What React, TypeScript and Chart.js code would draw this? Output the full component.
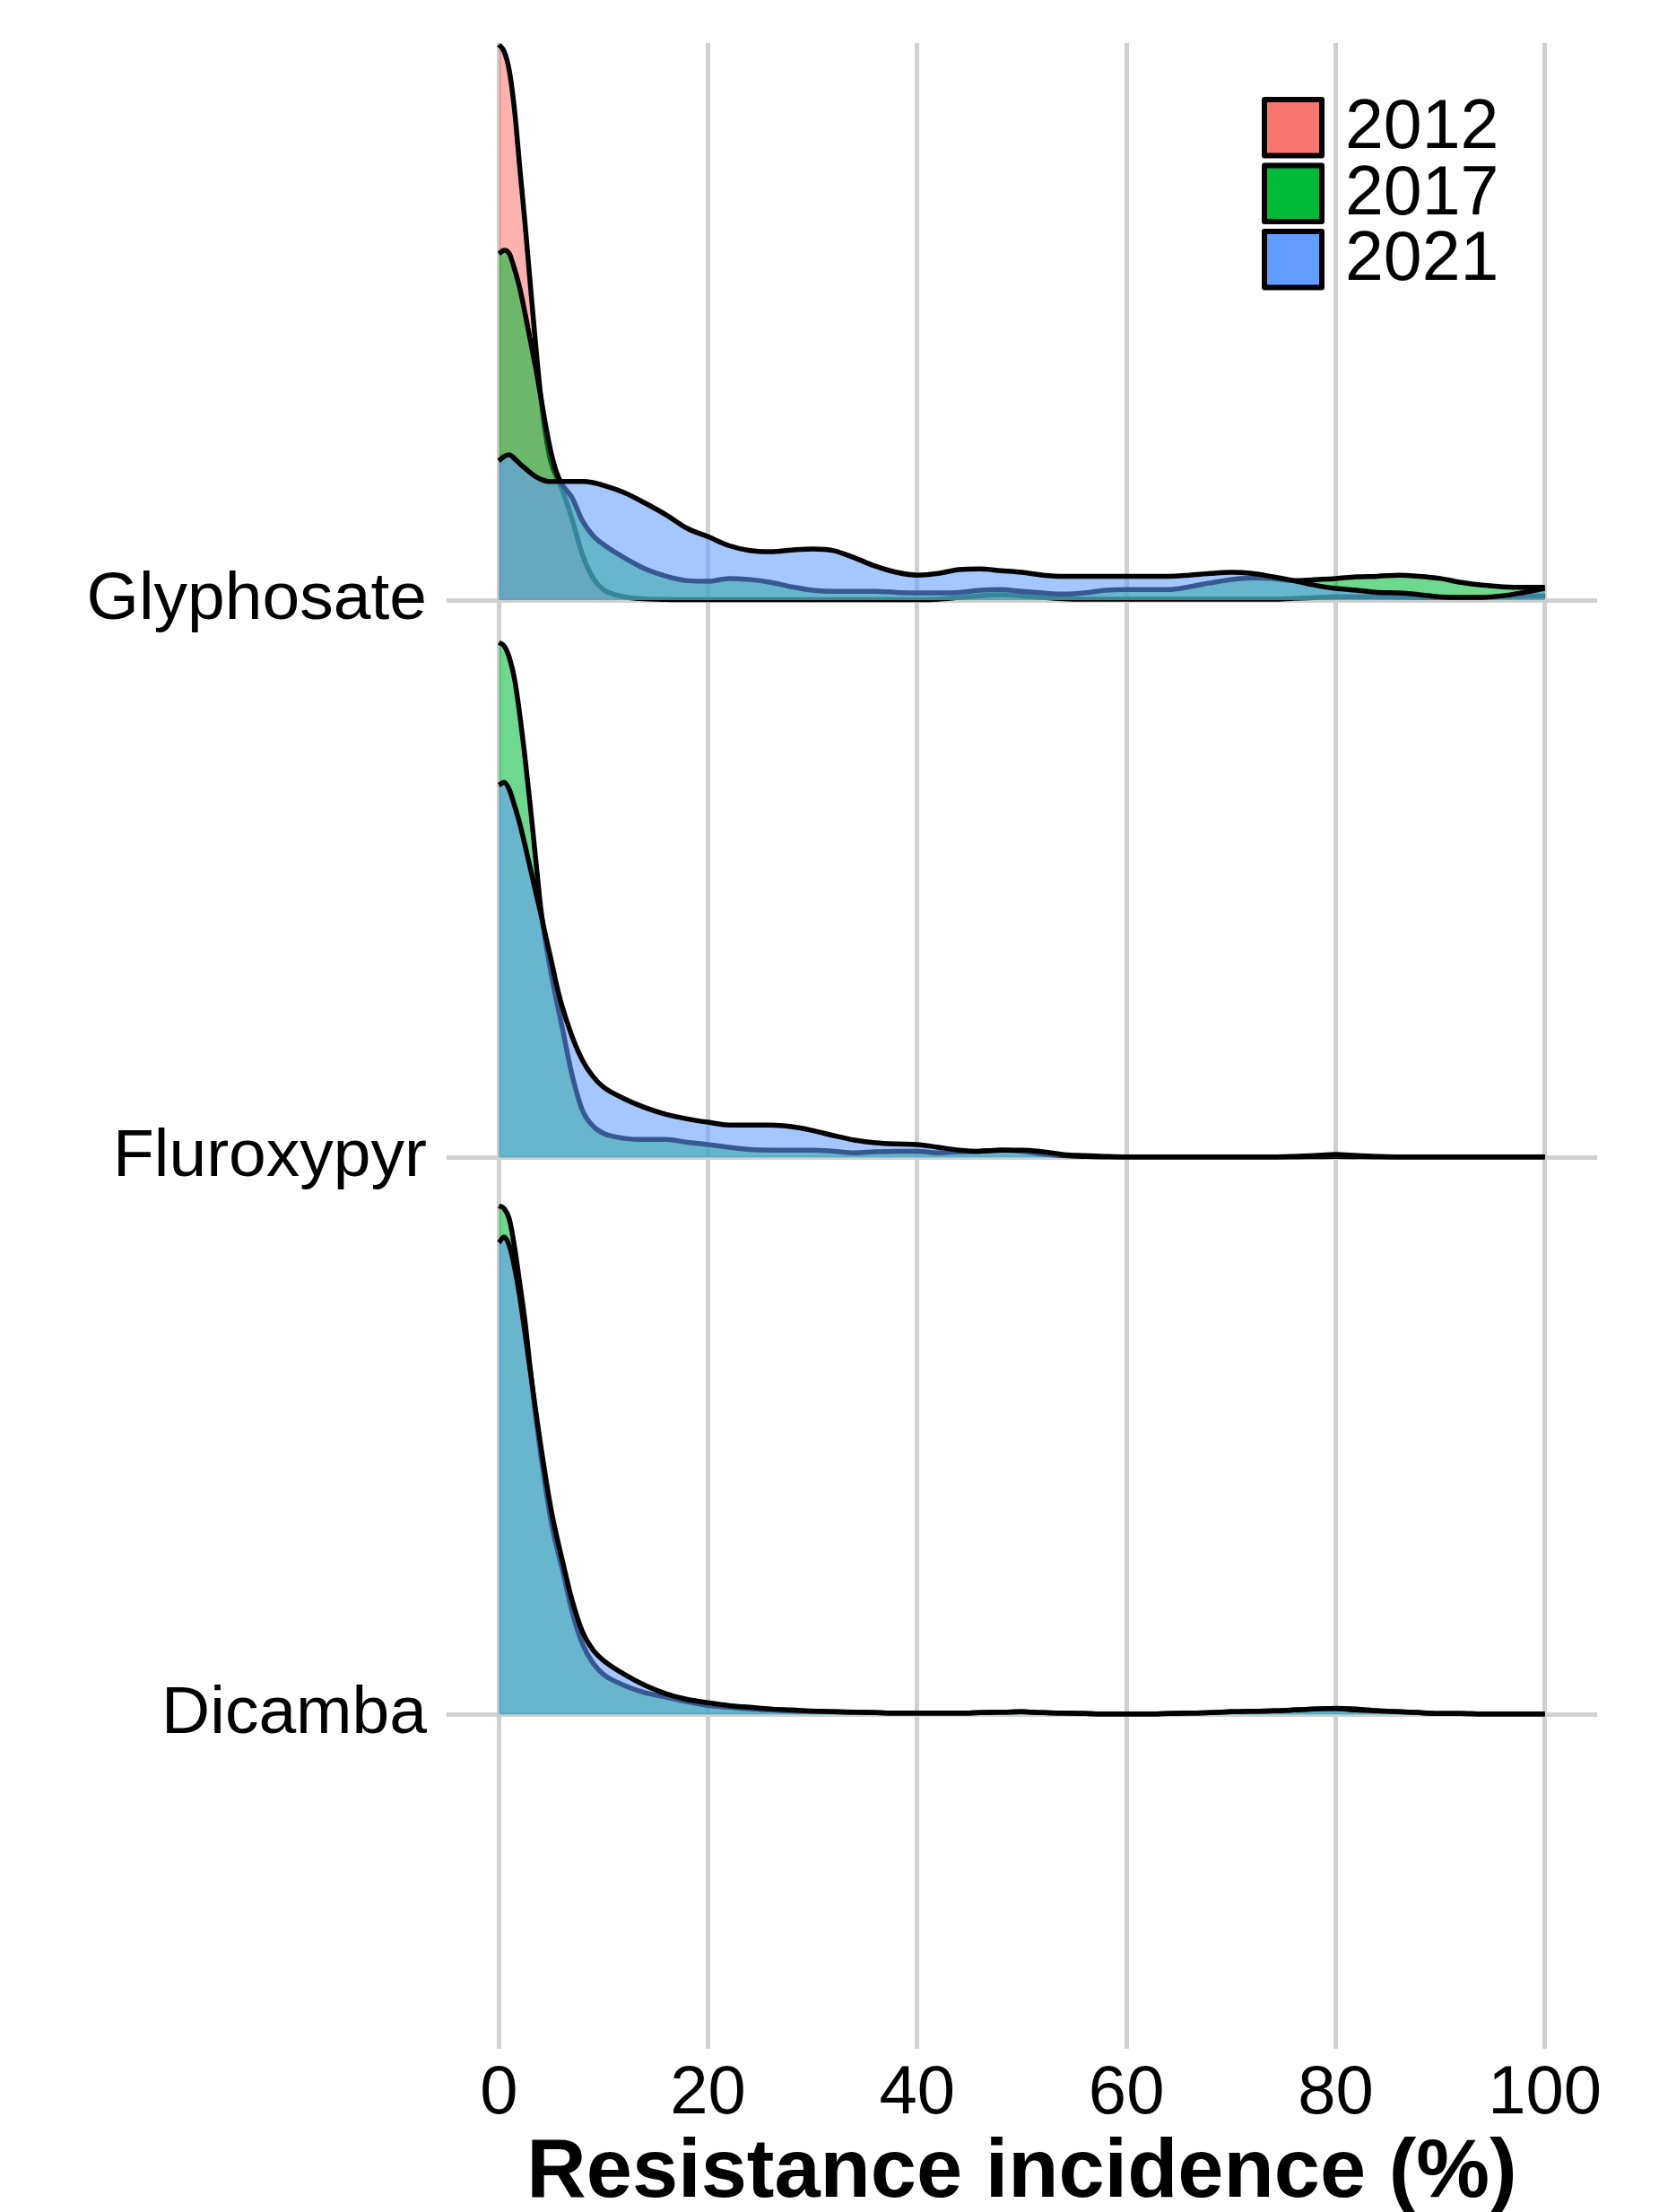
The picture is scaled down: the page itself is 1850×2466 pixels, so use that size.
import React, { useEffect, useRef } from "react";
import { Chart, registerables } from "chart.js";

Chart.register(...registerables);

const FONT = "'Liberation Sans', Arial, Helvetica, sans-serif";

// Discrete ridge categories (top to bottom) and their baseline levels on the y scale
const categories = ["Glyphosate", "Fluroxypyr", "Dicamba"];
const categoryLevels = [3, 2, 1];

const years = ["2012", "2017", "2021"];
const yearColors = ["#F8766D", "#00BA38", "#619CFF"];

const xTicks = [0, 20, 40, 60, 80, 100];
const axisTitle = "Resistance incidence (%)";

// Shared evaluation grid of resistance incidence (%)
const xGrid = [
  0, 0.5, 1, 1.5, 2, 2.5, 3, 3.5, 4, 4.5, 5, 5.5, 6, 7, 8, 9, 10, 12, 14, 16, 18, 20,
  22, 24, 26, 28, 30, 32, 34, 36, 38, 40, 42, 44, 46, 48, 50, 52, 54, 56, 58, 60, 62,
  64, 66, 68, 70, 72, 74, 76, 78, 80, 82, 84, 86, 88, 90, 92, 94, 96, 98, 100,
];

// Scaled density heights (ridge units)
const glyphosate2012 = [
  0.997, 0.985, 0.95, 0.879, 0.776, 0.676, 0.568, 0.462, 0.366, 0.293, 0.246, 0.222, 0.201,
  0.145, 0.081, 0.04, 0.019,
  0.006, 0.0024, 0.0013, 0.0008, 0.0008, 0.0008, 0.0008, 0.0008, 0.0008, 0.0008,
  0.0008, 0.0008, 0.0008, 0.0008, 0.0008,
  0.0016, 0.0048, 0.008, 0.0097, 0.008,
  0.0048, 0.0024, 0.0016, 0.0016, 0.0016,
  0.0016, 0.0016, 0.0016, 0.0016, 0.0016,
  0.0016, 0.0016, 0.0032, 0.0048, 0.0064,
  0.0064, 0.0064, 0.0056, 0.0048, 0.0048,
  0.0048, 0.0056, 0.0064, 0.0072, 0.008,
];
const glyphosate2017 = [
  0.622, 0.628, 0.622, 0.594, 0.56, 0.515, 0.467, 0.419, 0.366, 0.311, 0.264, 0.23, 0.209,
  0.184, 0.142, 0.116, 0.1,
  0.076, 0.056, 0.043, 0.035, 0.034, 0.039, 0.037, 0.032, 0.024, 0.018,
  0.016, 0.016, 0.016, 0.014, 0.013,
  0.013, 0.014, 0.018, 0.019, 0.016,
  0.013, 0.011, 0.013, 0.018, 0.019,
  0.019, 0.019, 0.024, 0.031, 0.037,
  0.04, 0.039, 0.035, 0.037, 0.039,
  0.042, 0.043, 0.045, 0.043, 0.039,
  0.032, 0.027, 0.024, 0.023, 0.023,
];
const glyphosate2021 = [
  0.25, 0.258, 0.261, 0.254, 0.245, 0.237, 0.229, 0.222, 0.217, 0.214, 0.213, 0.213, 0.213,
  0.213, 0.213, 0.211, 0.206,
  0.193, 0.174, 0.153, 0.129, 0.114, 0.098, 0.089, 0.087, 0.09, 0.092,
  0.089, 0.076, 0.061, 0.05, 0.045,
  0.048, 0.055, 0.056, 0.053, 0.05,
  0.045, 0.043, 0.043, 0.043, 0.043,
  0.043, 0.043, 0.045, 0.048, 0.05,
  0.048, 0.042, 0.035, 0.027, 0.021,
  0.018, 0.014, 0.013, 0.01, 0.006,
  0.005, 0.005, 0.008, 0.014, 0.021,
];
const fluroxypyr2017 = [
  0.924, 0.918, 0.897, 0.858, 0.794, 0.717, 0.631, 0.539, 0.448, 0.383, 0.33, 0.282, 0.238,
  0.148, 0.084, 0.056, 0.043,
  0.034, 0.032, 0.032, 0.027, 0.023, 0.018, 0.014, 0.013, 0.013, 0.013,
  0.011, 0.008, 0.01, 0.011, 0.011,
  0.008, 0.01, 0.011, 0.013, 0.011,
  0.006, 0.003, 0.0016, 0.0008, 0.0008,
  0.0008, 0.0008, 0.0008, 0.0008, 0.0008,
  0.0008, 0.0008, 0.0008, 0.0012, 0.0016,
  0.0012, 0.0008, 0.0008, 0.0008, 0.0008,
  0.0008, 0.0008, 0.0008, 0.0008, 0.0008,
];
const fluroxypyr2021 = [
  0.668, 0.673, 0.66, 0.631, 0.599, 0.56, 0.519, 0.478, 0.438, 0.395, 0.354, 0.311, 0.274,
  0.217, 0.174, 0.145, 0.126,
  0.105, 0.089, 0.077, 0.069, 0.063, 0.058, 0.058, 0.058, 0.055, 0.048,
  0.039, 0.031, 0.026, 0.024, 0.023,
  0.018, 0.013, 0.011, 0.013, 0.013,
  0.01, 0.005, 0.003, 0.0016, 0.0008,
  0.0008, 0.0008, 0.0008, 0.0008, 0.0008,
  0.0008, 0.0008, 0.0016, 0.003, 0.005,
  0.003, 0.0016, 0.0008, 0.0008, 0.0008,
  0.0008, 0.0008, 0.0008, 0.0008, 0.0008,
];
const dicamba2017 = [
  0.913, 0.908, 0.889, 0.839, 0.773, 0.705, 0.62, 0.539, 0.467, 0.403, 0.346, 0.303, 0.266,
  0.185, 0.126, 0.092, 0.072,
  0.052, 0.039, 0.031, 0.023, 0.016, 0.013, 0.01, 0.008, 0.006, 0.0056,
  0.0048, 0.004, 0.0032, 0.0024, 0.0024,
  0.0024, 0.0024, 0.0032, 0.004, 0.0048,
  0.0032, 0.0024, 0.0016, 0.0008, 0.0008,
  0.0008, 0.0016, 0.0024, 0.0032, 0.0048,
  0.0056, 0.0064, 0.008, 0.0097, 0.011,
  0.0097, 0.0064, 0.0048, 0.0032, 0.0016,
  0.0016, 0.0008, 0.0008, 0.0008, 0.0008,
];
const dicamba2021 = [
  0.847, 0.857, 0.841, 0.802, 0.749, 0.684, 0.617, 0.548, 0.483, 0.422, 0.367, 0.322, 0.282,
  0.205, 0.148, 0.116, 0.097,
  0.072, 0.052, 0.037, 0.027, 0.021, 0.016, 0.013, 0.01, 0.008, 0.006,
  0.0048, 0.004, 0.0032, 0.0024, 0.0024,
  0.0024, 0.0024, 0.0032, 0.004, 0.0048,
  0.0032, 0.0024, 0.0016, 0.0008, 0.0008,
  0.0008, 0.0016, 0.0024, 0.0032, 0.0048,
  0.0056, 0.0064, 0.008, 0.0097, 0.0105,
  0.008, 0.0064, 0.0048, 0.0032, 0.0016,
  0.0016, 0.0008, 0.0008, 0.0008, 0.0008,
];

const ridges = [
  { category: 0, year: 0, values: glyphosate2012 },
  { category: 0, year: 1, values: glyphosate2017 },
  { category: 0, year: 2, values: glyphosate2021 },
  { category: 1, year: 1, values: fluroxypyr2017 },
  { category: 1, year: 2, values: fluroxypyr2021 },
  { category: 2, year: 1, values: dicamba2017 },
  { category: 2, year: 2, values: dicamba2021 },
];

function withAlpha(hex: string, a: number) {
  const n = parseInt(hex.slice(1), 16);
  return `rgba(${(n >> 16) & 255}, ${(n >> 8) & 255}, ${n & 255}, ${a})`;
}

const yearLegend = {
  id: "yearLegend",
  afterDraw(chart: any) {
    const ctx = chart.ctx as CanvasRenderingContext2D;
    ctx.save();
    const left = 1407;
    const top0 = 108;
    const pitch = 73.5;
    const w = 70;
    const h = 68.5;
    const lw = 6;
    years.forEach((label, i) => {
      const top = top0 + i * pitch;
      ctx.fillStyle = yearColors[i];
      ctx.fillRect(left + lw / 2, top + lw / 2, w - lw, h - lw);
      ctx.lineWidth = lw;
      ctx.strokeStyle = "#000";
      ctx.lineJoin = "round";
      ctx.strokeRect(left + lw / 2, top + lw / 2, w - lw, h - lw);
      ctx.fillStyle = "#000";
      ctx.font = `77px ${FONT}`;
      ctx.textAlign = "left";
      ctx.textBaseline = "middle";
      ctx.fillText(label, 1500, top + h / 2 + 2);
    });
    ctx.restore();
  },
};

export default function App() {
  const ref = useRef<HTMLCanvasElement | null>(null);

  useEffect(() => {
    const canvas = ref.current;
    if (!canvas) return;

    const datasets = ridges.map((r) => {
      const base = categoryLevels[r.category];
      return {
        label: `${categories[r.category]} ${years[r.year]}`,
        data: xGrid.map((x, i) => ({ x, y: base + r.values[i] })),
        fill: { value: base },
        backgroundColor: withAlpha(yearColors[r.year], 0.57),
        borderColor: "#000000",
        borderWidth: 5.5,
        borderJoinStyle: "round" as const,
        cubicInterpolationMode: "monotone" as const,
        pointRadius: 0,
        order: 3 - r.year,
      };
    });

    const chart = new Chart(canvas, {
      type: "line",
      data: { datasets },
      plugins: [yearLegend],
      options: {
        responsive: false,
        animation: false,
        devicePixelRatio: 1,
        events: [],
        layout: { padding: { top: 48, right: 69, bottom: 0, left: 0 } },
        plugins: {
          legend: { display: false },
          tooltip: { enabled: false },
        },
        scales: {
          x: {
            type: "linear",
            min: -5,
            max: 105,
            afterBuildTicks: (s: any) => {
              s.ticks = xTicks.map((v) => ({ value: v }));
            },
            afterFit: (s: any) => {
              s.height = 182;
              s.paddingLeft = 0;
              s.paddingRight = 0;
            },
            grid: { color: "#D0D0D0", lineWidth: 5, drawTicks: false },
            border: { display: false },
            ticks: {
              autoSkip: false,
              maxRotation: 0,
              padding: 5,
              color: "#000",
              font: { family: FONT, size: 76 },
            },
            title: {
              display: true,
              text: axisTitle,
              color: "#000",
              font: { family: FONT, size: 92, weight: "bold", lineHeight: 0.9 },
              padding: { top: 0, bottom: 1 },
            },
          },
          y: {
            type: "linear",
            min: 0.4,
            max: 4.0,
            afterBuildTicks: (s: any) => {
              s.ticks = [...categoryLevels].sort((a, b) => a - b).map((v) => ({ value: v }));
            },
            afterFit: (s: any) => {
              s.width = 498;
              s.paddingTop = 0;
              s.paddingBottom = 0;
            },
            grid: { color: "#D0D0D0", lineWidth: 5, drawTicks: false },
            border: { display: false },
            ticks: {
              autoSkip: false,
              padding: 22,
              color: "#000",
              font: { family: FONT, size: 75 },
              callback: (v: any) => categories[categoryLevels.indexOf(Number(v))],
            },
          },
        },
      },
    } as any);

    return () => chart.destroy();
  }, []);

  return (
    <div
      style={{
        position: "absolute",
        left: 0,
        top: 0,
        width: 1850,
        height: 2466,
        background: "#ffffff",
        overflow: "hidden",
      }}
    >
      <canvas ref={ref} width={1850} height={2466} style={{ display: "block", width: 1850, height: 2466 }} />
    </div>
  );
}
